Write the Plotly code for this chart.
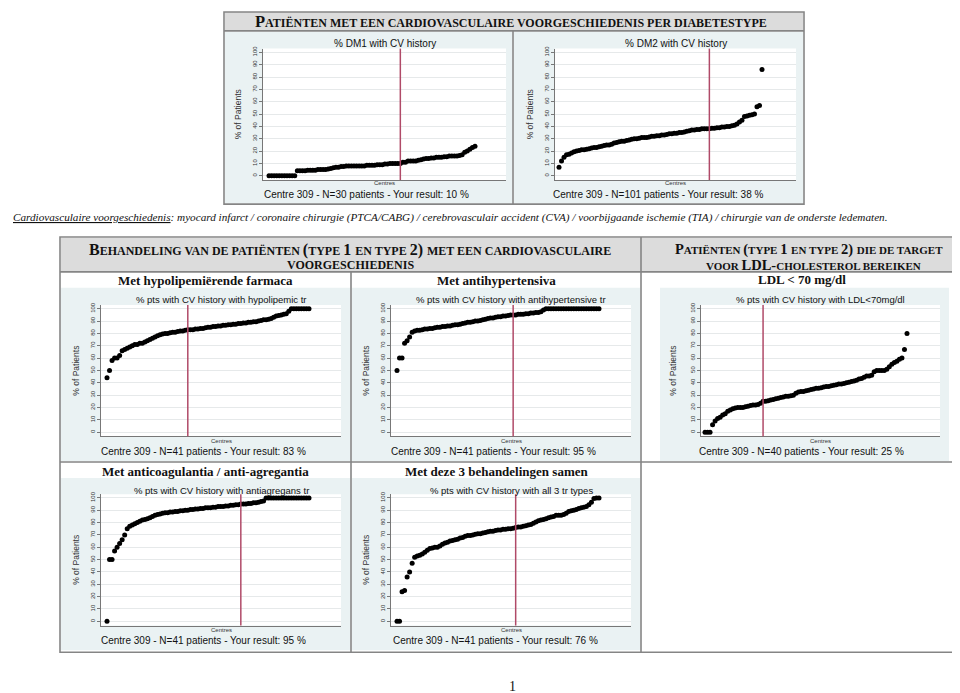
import plotly.graph_objects as go

# ---------------- DATA ----------------
dm1 = [0, 0, 0, 0, 0, 0, 0, 0, 0, 0, 0,
       4, 4, 4, 4, 4.5, 4.5, 4.5, 4.5, 5, 5, 5, 5, 5.5, 6, 6.5, 7, 7, 7.5, 7.5,
       8, 8, 8, 8, 8, 8, 8, 8, 8.5, 8.5, 8.5, 8.5, 9, 9, 9, 9.5, 9.5, 10, 10, 10, 10, 10,
       11, 11, 12, 12, 12, 12, 12.5, 13, 13.5, 14, 14, 14.5, 14.5, 15, 15, 15, 15.5, 15.5,
       16, 16, 16, 16, 16.5, 17, 19, 20, 21.5, 23, 24]
dm2 = [7, 12, 15, 17, 17.5, 18.5, 19.5, 20, 20.5, 21,
       21, 21.5, 22, 22.5, 23, 23, 23.5, 24, 24.5, 25,
       25, 25.5, 26.5, 27, 27.5, 28, 28, 28.5, 29, 29.5,
       30, 30, 30.5, 31, 31, 31, 31.5, 32, 32, 32.5,
       32.5, 33, 33, 33.5, 34, 34, 34.5, 34.5, 35, 35,
       35.5, 36, 36.5, 37, 37, 37.5, 37.5, 38, 38, 38,
       38, 38.5, 38.5, 39, 39, 39.5, 39.5, 40, 40, 40.5,
       41, 42, 43.5, 45, 48, 48.5, 49, 49.5, 50, 56, 57, 86]
hypolipemic = [44, 50, 58, 60, 60, 62, 66, 67, 68, 69,
               70, 71, 71, 72, 72, 73, 74, 75, 76, 77,
               78, 79, 79.5, 80, 80, 80.5, 81, 81, 81.5, 82,
               82, 82.5, 83, 83, 83, 83.5, 83.5, 84, 84, 84.5,
               85, 85, 85.5, 85.5, 86, 86, 86.5, 86.5, 87, 87,
               87.5, 87.5, 88, 88, 88.5, 88.5, 89, 89, 89.5, 89.5,
               90, 90.5, 91, 91, 91.5, 92, 93, 94, 94.5, 95,
               95.5, 96, 98, 100, 100, 100, 100, 100, 100, 100, 100]
antihypertensive = [50, 60, 60, 72, 74, 77, 81, 82, 82.5, 82.5,
                    83, 83.5, 83.5, 84, 84, 84.5, 85, 85, 85.5, 85.5,
                    86, 86, 86.5, 87, 87, 87.5, 88, 88.5, 89, 89,
                    89.5, 90, 90, 90.5, 91, 91.5, 92, 92.5, 92.5, 93,
                    93.5, 93.5, 94, 94, 94.5, 95, 95, 95, 95.5, 95.5,
                    95.5, 96, 96, 96.5, 96.5, 97, 97, 97.5, 99,
                    100, 100, 100, 100, 100, 100, 100, 100, 100, 100, 100,
                    100, 100, 100, 100, 100, 100, 100, 100, 100, 100, 100]
ldl70 = [0, 0, 0, 6, 9, 11, 12, 14, 15, 17,
         18, 19, 19.5, 20, 20, 20, 20.5, 21, 21.5, 22,
         22, 22.5, 23.5, 25, 25, 25.5, 26, 26.5, 27, 27.5,
         28, 28.5, 29, 29, 29.5, 30, 31.5, 32.5, 33, 33,
         33.5, 34, 34.5, 35, 35.5, 35.5, 36, 36.5, 37, 37,
         37.5, 38, 38.5, 39, 39, 39.5, 40, 40.5, 41, 41.5,
         42, 43, 43.5, 44.5, 45.5, 45.5, 46, 49, 50, 50,
         50, 50, 51, 53, 55, 56.5, 57.5, 59, 60, 67, 80]
antiagregans = [0, 50, 50, 57, 60, 63, 66, 70, 75, 77,
                78, 79, 80, 81, 82, 82.5, 83, 84, 85, 86,
                86.5, 87, 87.5, 88, 88, 88.5, 88.5, 89, 89, 89.5,
                89.5, 90, 90, 90.5, 90.5, 91, 91, 91.5, 91.5, 92,
                92, 92, 92.5, 92.5, 93, 93, 93, 93.5, 93.5, 94,
                94, 94.5, 94.5, 95, 95, 95, 95.5, 95.5, 96, 96,
                96.5, 97, 97.5,
                100, 100, 100, 100, 100, 100, 100, 100, 100,
                100, 100, 100, 100, 100, 100, 100, 100, 100]
all_three = [0, 0, 24, 25, 36, 40, 47, 52, 53, 53.5,
             54.5, 56, 57.5, 59, 59.5, 60, 60, 61, 62.5, 63.5,
             64, 65, 65.5, 66, 66.5, 67.5, 68, 69, 69.5, 69.5,
             70, 70.5, 71, 71, 71.5, 72, 72.5, 73, 73, 73.5,
             74, 74, 74.5, 74.5, 75, 75, 75.5, 76, 76.5, 76.5,
             77, 77.5, 78, 78.5, 79.5, 80.5, 81.5, 82, 82.5, 83,
             84, 84.5, 85, 86, 86, 86, 86.5, 87.5, 89, 89.5,
             90, 90.5, 91.5, 92, 92.5, 93, 94.5, 96.5, 99.5, 100, 100]

# rank (1-based position among sorted centres) of centre 309
your_rank = {"dm1": 52, "dm2": 61, "hypo": 33, "antihyp": 47, "ldl": 24, "antiag": 54, "all3": 48}
series = {"dm1": dm1, "dm2": dm2, "hypo": hypolipemic, "antihyp": antihypertensive,
          "ldl": ldl70, "antiag": antiagregans, "all3": all_three}

subtitles = {"dm1": "% DM1 with CV history", "dm2": "% DM2 with CV history",
             "hypo": "% pts with CV history with hypolipemic tr",
             "antihyp": "% pts with CV history with antihypertensive tr",
             "ldl": "% pts with CV history with LDL<70mg/dl",
             "antiag": "% pts with CV history with antiagregans tr",
             "all3": "% pts with CV history with all 3 tr types"}
notes = {"dm1": "Centre 309 - N=30 patients - Your result: 10 %",
         "dm2": "Centre 309 - N=101 patients - Your result: 38 %",
         "hypo": "Centre 309 - N=41 patients - Your result: 83 %",
         "antihyp": "Centre 309 - N=41 patients - Your result: 95 %",
         "ldl": "Centre 309 - N=40 patients - Your result: 25 %",
         "antiag": "Centre 309 - N=41 patients - Your result: 95 %",
         "all3": "Centre 309 - N=41 patients - Your result: 76 %"}
y_ticks = list(range(0, 101, 10))

# ---------------- LAYOUT (pixel geometry) ----------------
W, H = 960, 693
def X(p): return p / W
def Y(p): return 1 - p / H

YMIN, YMAX = -3.4, 103
PANELS = {
    "dm1":     dict(ax=(255, 498), row=(165.5, 41.5), pts=(261, 467), note=(358, 184), ylab=230, sub=33, cen=173),
    "dm2":     dict(ax=(547, 788), row=(165.5, 41.5), pts=(551, 754), note=(650, 184), ylab=522, sub=33, cen=173),
    "hypo":    dict(ax=(93, 333), row=(423, 299), pts=(99, 301), note=(195, 442), ylab=68, sub=290, cen=432),
    "antihyp": dict(ax=(383, 623), row=(423, 299), pts=(389, 591), note=(485, 442), ylab=358, sub=290, cen=432),
    "ldl":     dict(ax=(693, 932), row=(423, 299), pts=(697, 899), note=(793, 442), ylab=665, sub=290, cen=432),
    "antiag":  dict(ax=(93, 333), row=(613, 489), pts=(99, 301), note=(195, 632), ylab=68, sub=482, cen=622),
    "all3":    dict(ax=(383, 623), row=(613, 489), pts=(389, 591), note=(487, 632), ylab=358, sub=482, cen=622),
}

SANS = "Liberation Sans"
SERIF = "Liberation Serif"
BLUE = "#eaf2f3"
BORDER = "#858585"
RED = "#b04a68"

fig = go.Figure()
shapes = []
annotations = []
layout_axes = {}

def rect(x0, y0, x1, y1, fill=None, line=None, lw=0, layer="below"):
    shapes.append(dict(type="rect", xref="paper", yref="paper", x0=X(x0), x1=X(x1), y0=Y(y1), y1=Y(y0),
                       fillcolor=fill if fill else "rgba(0,0,0,0)",
                       line=dict(color=line if line else "rgba(0,0,0,0)", width=lw), layer=layer))

def hline(x0, x1, y, color=BORDER, w=1.6):
    shapes.append(dict(type="line", xref="paper", yref="paper", x0=X(x0), x1=X(x1), y0=Y(y), y1=Y(y),
                       line=dict(color=color, width=w), layer="above"))

def vline(x, y0, y1, color=BORDER, w=1.6):
    shapes.append(dict(type="line", xref="paper", yref="paper", x0=X(x), x1=X(x), y0=Y(y0), y1=Y(y1),
                       line=dict(color=color, width=w), layer="above"))

def text(x, y, s, size, family=SANS, color="#111", angle=0, xanchor="center"):
    annotations.append(dict(x=X(x), y=Y(y), xref="paper", yref="paper", text=s, showarrow=False,
                            font=dict(size=size, family=family, color=color), textangle=angle,
                            xanchor=xanchor, yanchor="middle", borderpad=0))

def small_caps(s, big, small):
    out, run, run_small = [], "", None
    for ch in s:
        is_small = ch.islower() or (ch == " " and run_small)
        if run_small is None or is_small == run_small:
            run += ch
        else:
            out.append((run, run_small))
            run = ch
        run_small = is_small
    out.append((run, run_small))
    html = "".join(f'<span style="font-size:{small if sm else big}px">{r.upper()}</span>' for r, sm in out)
    return "<b>" + html + "</b>"

# header backgrounds & graph regions
rect(217, 1, 795, 20, fill="#dcdcdc")
rect(53, 228, 957, 262, fill="#dcdcdc")
rect(217, 21, 504, 193, fill=BLUE)
rect(506, 21, 795, 193, fill=BLUE)
rect(53, 278, 342, 452, fill=BLUE)
rect(344, 278, 632, 452, fill=BLUE)
rect(652, 278, 941, 452, fill=BLUE)
rect(53, 469, 342, 642, fill=BLUE)
rect(344, 469, 632, 642, fill=BLUE)

for k, (key, p) in enumerate(PANELS.items(), start=1):
    vals = series[key]
    n = len(vals)
    ax0, ax1 = p["ax"]
    y0px, y100px = p["row"]
    p0, p1 = p["pts"]
    s = (p1 - p0) / (n - 1)
    xr = [1 - (p0 - ax0) / s, n + (ax1 - p1) / s]
    ppu = (y0px - y100px) / 100
    top = y100px - (YMAX - 100) * ppu
    bottom = y0px - YMIN * ppu
    rect(ax0, top, ax1, bottom, fill="white")
    sfx = "" if k == 1 else str(k)
    fig.add_trace(go.Scatter(x=list(range(1, n + 1)), y=vals, mode="markers",
                             marker=dict(color="black", size=5, line=dict(width=0)),
                             xaxis="x" + sfx, yaxis="y" + sfx, showlegend=False, hoverinfo="skip"))
    layout_axes["xaxis" + sfx] = dict(domain=[X(ax0), X(ax1)], range=xr, anchor="y" + sfx,
                                      showticklabels=False, showgrid=False, zeroline=False,
                                      showline=True, linecolor="#777", linewidth=1, ticks="")
    layout_axes["yaxis" + sfx] = dict(domain=[Y(bottom), Y(top)], range=[YMIN, YMAX], anchor="x" + sfx,
                                      tickvals=y_ticks, tickangle=-90,
                                      tickfont=dict(size=6, family=SANS, color="#333"),
                                      ticks="outside", ticklen=3, tickcolor="#777", tickwidth=1,
                                      showline=True, linecolor="#777", linewidth=1,
                                      showgrid=True, gridcolor="#e6e9ea", gridwidth=1, zeroline=False)
    shapes.append(dict(type="line", xref="x" + sfx, yref="y" + sfx + " domain",
                       x0=your_rank[key], x1=your_rank[key], y0=0, y1=1,
                       line=dict(color=RED, width=1.5), layer="above"))
    cx = (ax0 + ax1) / 2
    text(cx, p["sub"], subtitles[key], 10 if key in ("dm1", "dm2") else 9.5)
    text(cx, p["cen"], "Centres", 6, color="#333")
    text(p["note"][0], p["note"][1], notes[key], 10)
    text(p["ylab"], (top + bottom) / 2, "% of Patients", 8.5, color="#333", angle=-90)

# borders
rect(216, 1, 796, 194, line=BORDER, lw=1.6, layer="above")
hline(216, 796, 20)
vline(505, 20, 194)
rect(52, 227, 958, 644, line=BORDER, lw=1.6, layer="above")
hline(52, 958, 262)
hline(52, 958, 453)
vline(343, 262, 644)
vline(633, 227, 644)

# titles
text(503, 11, small_caps("Patiënten met een cardiovasculaire voorgeschiedenis per diabetestype", 16.5, 12),
     16.5, family=SERIF, color="#111")
text(342, 240, small_caps("Behandeling van de patiënten (type 1 en type 2) met een cardiovasculaire", 16, 12),
     16, family=SERIF)
text(342, 255, small_caps("voorgeschiedenis", 16, 12), 16, family=SERIF)
text(801, 240, small_caps("Patiënten (type 1 en type 2) die de target", 14.5, 11), 14.5, family=SERIF)
text(805, 255, small_caps("voor LDL-cholesterol bereiken", 14.5, 11), 14.5, family=SERIF)
text(197, 271, "<b>Met hypolipemiërende farmaca</b>", 13, family=SERIF)
text(488, 271, "<b>Met antihypertensiva</b>", 13, family=SERIF)
text(794, 270, "<b>LDL &lt; 70 mg/dl</b>", 13, family=SERIF)
text(197, 463, "<b>Met anticoagulantia / anti-agregantia</b>", 13, family=SERIF)
text(488, 463, "<b>Met deze 3 behandelingen samen</b>", 13, family=SERIF)

text(442, 207, "<i><u>Cardiovasculaire voorgeschiedenis</u>: myocard infarct / coronaire chirurgie (PTCA/CABG) / "
               "cerebrovasculair accident (CVA) / voorbijgaande ischemie (TIA) / chirurgie van de onderste ledematen.</i>",
     11.2, family=SERIF)
text(505, 678, "1", 14, family=SERIF)

fig.update_layout(width=W, height=H, margin=dict(l=0, r=0, t=0, b=0),
                  paper_bgcolor="white", plot_bgcolor="rgba(0,0,0,0)",
                  shapes=shapes, annotations=annotations, showlegend=False, **layout_axes)
fig.write_html("out.html")
